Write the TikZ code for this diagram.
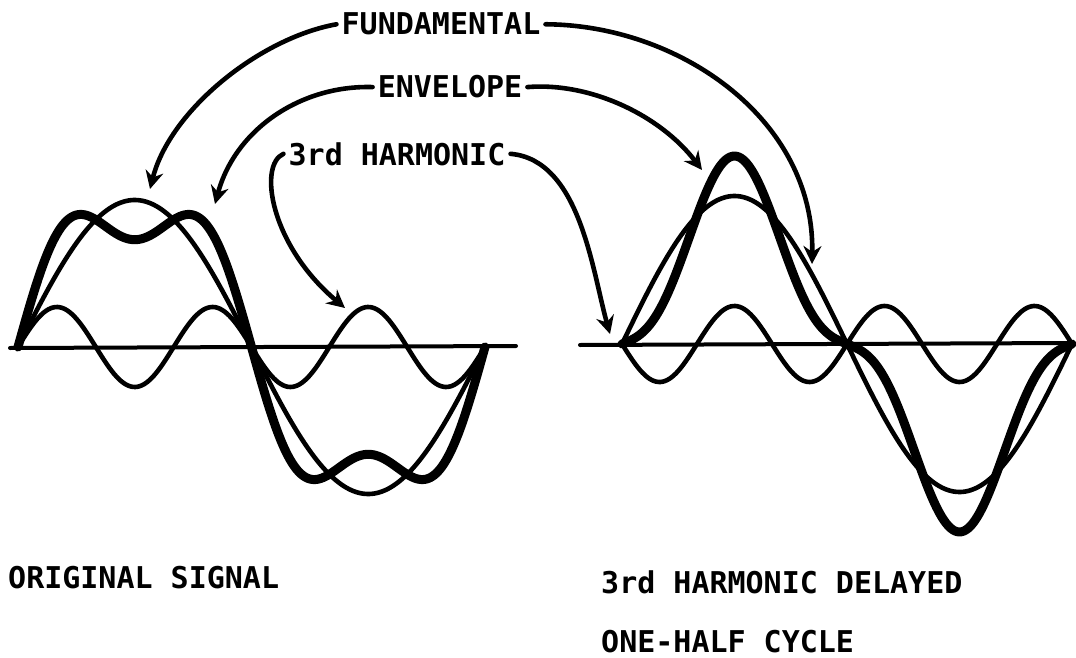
\documentclass[tikz,border=0pt]{standalone}
\usepackage{fontspec}
\newfontfamily\lett{DejaVu Sans Mono Bold}
\usetikzlibrary{arrows.meta}
\begin{document}
\begin{tikzpicture}[x=1pt,y=-1pt, line cap=round, line join=round,
 thinw/.style={line width=4.6pt},
 boldw/.style={line width=9pt},
 axisw/.style={line width=4pt},
 conn/.style={line width=4.6pt,-{Stealth[length=18pt,width=18pt,inset=6pt]}},
 lab/.style={font=\lett\fontsize{30}{36}\selectfont, inner sep=5pt},
 blab/.style={font=\lett\fontsize{30}{36}\selectfont, inner sep=0pt, anchor=base west}]
\useasboundingbox (0,0) rectangle (1076,658);

% axes
\coordinate (la0) at (10,348);
\coordinate (la1) at (516,346);
\coordinate (ra0) at (580,345);
\coordinate (ra1) at (1073,343);
\draw[axisw] (la0) -- (la1);
\draw[axisw] (ra0) -- (ra1);

% original signal
\draw[thinw] plot[domain=0:360, samples=200, smooth] ({18+1.29722*\x}, {347-147*sin(\x)});
\draw[thinw] plot[domain=0:360, samples=200, smooth] ({18+1.29722*\x}, {347-40*sin(3*\x)});
\draw[boldw] plot[domain=0:360, samples=240, smooth] ({18+1.29722*\x}, {347-147*(sin(\x)+0.27*sin(3*\x))});

% delayed
\draw[thinw] plot[domain=0:360, samples=200, smooth] ({622+1.25*\x}, {344-148*sin(\x)});
\draw[thinw] plot[domain=0:360, samples=200, smooth] ({622+1.25*\x}, {344+38*sin(3*\x)});
\draw[boldw] plot[domain=0:360, samples=240, smooth] ({622+1.25*\x}, {344-148*(sin(\x)-0.27*sin(3*\x))});

% labels
\node[lab, anchor=base] (fund) at (441,35) {FUNDAMENTAL};
\node[lab, anchor=base] (env) at (450,98) {ENVELOPE};
\node[lab, anchor=base] (harm) at (397,165) {3rd HARMONIC};

\coordinate (fL) at (150,189);
\coordinate (fR) at (812,264);
\coordinate (eL) at (215,204);
\coordinate (eR) at (702,170);
\coordinate (hL) at (345,308);
\coordinate (hR) at (610,334);

\draw[conn] (fund.west) .. controls (260,38) and (170,110) .. (fL);
\draw[conn] (fund.east) .. controls (680,25) and (815,120) .. (fR);
\draw[conn] (env.west) .. controls (300,85) and (235,130) .. (eL);
\draw[conn] (env.east) .. controls (590,82) and (660,115) .. (eR);
\draw[conn] (harm.west) .. controls (258,165) and (270,245) .. (hL);
\draw[conn] (harm.east) .. controls (580,160) and (592,270) .. (hR);

\node[blab] (orig) at (8,588) {ORIGINAL SIGNAL};
\node[blab] (delay) at (601,593) {3rd HARMONIC DELAYED};
\node[blab] (half) at (601,652) {ONE-HALF CYCLE};
\end{tikzpicture}
\end{document}
